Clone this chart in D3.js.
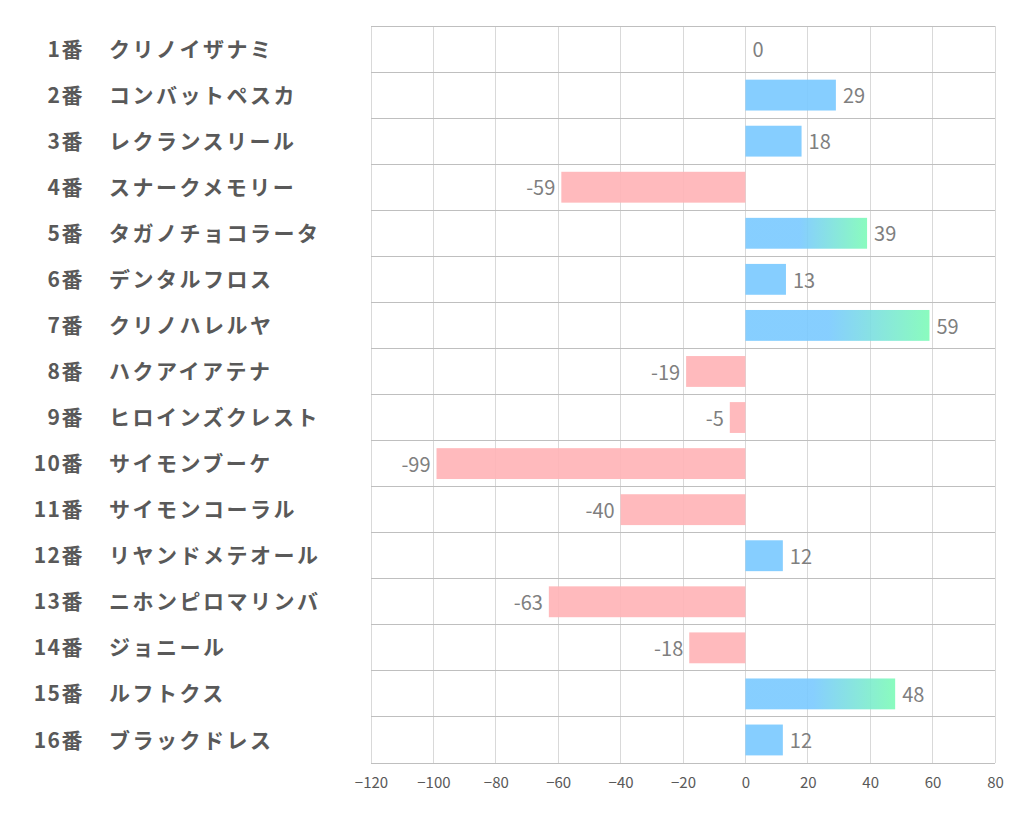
<!DOCTYPE html>
<html><head><meta charset="utf-8">
<script src="https://cdn.jsdelivr.net/npm/d3@7"></script>
<style>body{margin:0;background:#fff;} text{font-family:"Noto Sans CJK JP","Noto Sans",sans-serif;}</style>
</head><body><svg id="c" width="1022" height="834"></svg>
<script>
const numbers = ["1番","2番","3番","4番","5番","6番","7番","8番","9番","10番","11番","12番","13番","14番","15番","16番"];
const names = ["クリノイザナミ","コンバットペスカ","レクランスリール","スナークメモリー","タガノチョコラータ","デンタルフロス","クリノハレルヤ","ハクアイアテナ","ヒロインズクレスト","サイモンブーケ","サイモンコーラル","リヤンドメテオール","ニホンピロマリンバ","ジョニール","ルフトクス","ブラックドレス"];
const values = [0,29,18,-59,39,13,59,-19,-5,-99,-40,12,-63,-18,48,12];
const ticks = [-120,-100,-80,-60,-40,-20,0,20,40,60,80];

const svg = d3.select("#c");
const L=371, R=995, T=26, B=763;
const x = d3.scaleLinear().domain([-120,80]).range([L,R]);
const y = d3.scaleBand().domain(d3.range(values.length)).range([T,B]).paddingInner(0.33).paddingOuter(0.165);
const rowH = (B-T)/values.length;

const defs = svg.append("defs");
const g = defs.append("linearGradient").attr("id","grad").attr("x1","0").attr("x2","1").attr("y1","0").attr("y2","0");
g.append("stop").attr("offset","0").attr("stop-color","#79C9FF");
g.append("stop").attr("offset","0.45").attr("stop-color","#79C9FF");
g.append("stop").attr("offset","1").attr("stop-color","#7DFBB7");

svg.append("g").selectAll("line").data(ticks).join("line")
  .attr("x1",d=>x(d)).attr("x2",d=>x(d)).attr("y1",T).attr("y2",B)
  .attr("stroke","#d9d9d9").attr("stroke-width",1).attr("shape-rendering","crispEdges");
svg.append("g").selectAll("line").data(d3.range(values.length)).join("line")
  .attr("x1",L).attr("x2",R).attr("y1",d=>T+d*rowH).attr("y2",d=>T+d*rowH)
  .attr("stroke","#bfbfbf").attr("stroke-width",1).attr("shape-rendering","crispEdges");
svg.append("line").attr("x1",L).attr("x2",R).attr("y1",B).attr("y2",B)
  .attr("stroke","#bfbfbf").attr("shape-rendering","crispEdges");

svg.append("g").selectAll("rect").data(values).join("rect")
  .attr("x",d=>x(Math.min(0,d))).attr("width",d=>Math.abs(x(d)-x(0)))
  .attr("y",(d,i)=>y(i)).attr("height",y.bandwidth())
  .attr("fill",d=> d<0 ? "#FFB3B6" : (d>=30 ? "url(#grad)" : "#79C9FF"))
  .attr("opacity",0.9);

svg.append("g").selectAll("text").data(values).join("text")
  .attr("x",d=> d<0 ? x(d)-6 : x(d)+7)
  .attr("y",(d,i)=>y(i)+y.bandwidth()/2+1)
  .attr("dy","0.36em")
  .attr("text-anchor",d=> d<0 ? "end":"start")
  .attr("font-size",20).attr("fill","#7f7f7f")
  .text(d=>d);

const cl = svg.append("g");
cl.selectAll("text.n").data(numbers).join("text").attr("class","n")
  .attr("x",84).attr("y",(d,i)=>T+i*rowH+rowH/2).attr("dy","0.36em")
  .attr("text-anchor","end").attr("font-size",21).attr("font-weight","bold").attr("fill","#595959")
  .attr("letter-spacing",1.5)
  .text(d=>d);
cl.selectAll("text.m").data(names).join("text").attr("class","m")
  .attr("x",109).attr("y",(d,i)=>T+i*rowH+rowH/2).attr("dy","0.36em")
  .attr("text-anchor","start").attr("font-size",21).attr("font-weight","bold").attr("fill","#595959")
  .attr("letter-spacing",2.5)
  .text(d=>d);

const ax = svg.append("g").attr("transform",`translate(0,${B})`)
  .call(d3.axisBottom(x).tickValues(ticks).tickSize(0).tickPadding(14));
ax.select(".domain").remove();
ax.selectAll("text").attr("font-size",15).attr("fill","#595959")
  .attr("font-family","'Noto Sans CJK JP','Noto Sans',sans-serif");
</script></body></html>
